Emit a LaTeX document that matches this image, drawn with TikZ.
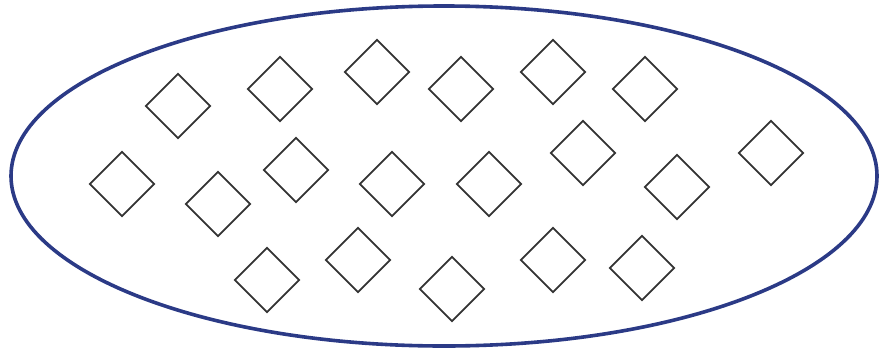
\documentclass[tikz,border=0pt]{standalone}
\usetikzlibrary{shapes.geometric}
\definecolor{navy}{HTML}{2B3A86}
\definecolor{dgray}{HTML}{333333}
\tikzset{
  dia/.style={draw=dgray, line width=1.7pt, shape=diamond, aspect=1, minimum size=65pt, inner sep=0pt},
  outer/.style={draw=navy, line width=3.6pt, shape=ellipse, minimum width=866pt, minimum height=340pt, inner sep=0pt}
}
\begin{document}
\begin{tikzpicture}[x=1pt,y=-1pt]
\useasboundingbox (0,0) rectangle (890,356);
\node[outer] (E) at (444,176) {};
\node[dia] (d1) at (178,106) {};
\node[dia] (d2) at (280,89) {};
\node[dia] (d3) at (377,72) {};
\node[dia] (d4) at (461,89) {};
\node[dia] (d5) at (553,72) {};
\node[dia] (d6) at (645,89) {};
\node[dia] (d7) at (122,184) {};
\node[dia] (d8) at (218,204) {};
\node[dia] (d9) at (296,170) {};
\node[dia] (d10) at (392,184) {};
\node[dia] (d11) at (489,184) {};
\node[dia] (d12) at (583,153) {};
\node[dia] (d13) at (677,187) {};
\node[dia] (d14) at (771,153) {};
\node[dia] (d15) at (267,280) {};
\node[dia] (d16) at (358,260) {};
\node[dia] (d17) at (452,289) {};
\node[dia] (d18) at (553,260) {};
\node[dia] (d19) at (642,268) {};
\end{tikzpicture}
\end{document}
